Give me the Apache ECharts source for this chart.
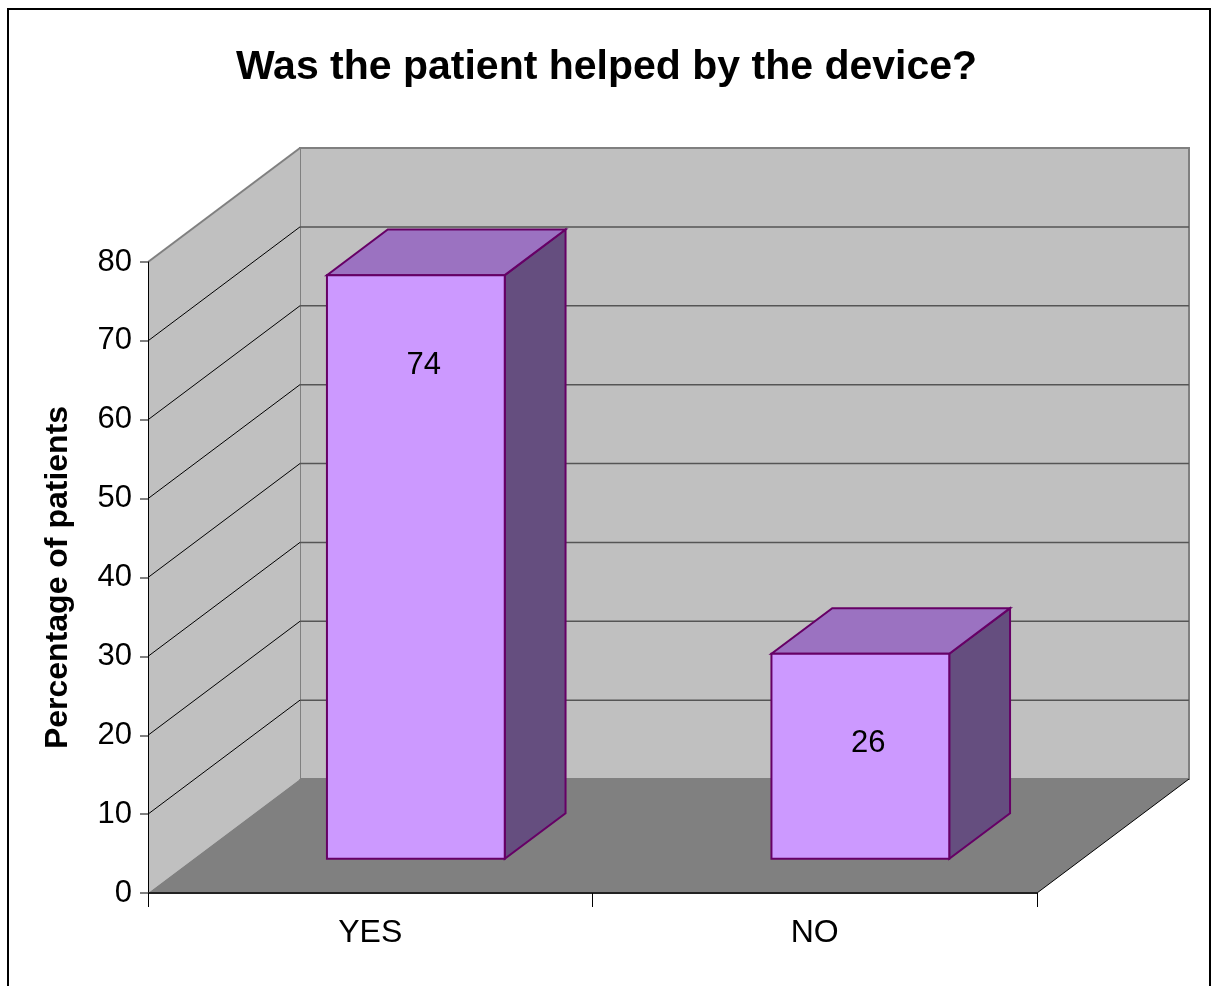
<!DOCTYPE html>
<html>
<head>
<meta charset="utf-8">
<script src="https://cdn.jsdelivr.net/npm/echarts@6/dist/echarts.min.js"></script>
<style>
  html, body { margin: 0; padding: 0; background: #fff; }
  #chart { width: 1213px; height: 986px; }
</style>
</head>
<body>
<div id="chart"></div>
<script>
// Survey answers and the share of patients for each
const categories = ['YES', 'NO'];
const percentages = [74, 26];
const yTicks = [0, 10, 20, 30, 40, 50, 60, 70, 80];

const Y_MIN = 0;
const Y_MAX = 80;
const Y_STEP = 10;

// Pseudo-3D depth: offset from the front plane to the back wall (px)
const DX = 152;
const DY = -114;
// Bars sit between these fractions of the depth
const F_FRONT = 0.3;
const F_BACK = 0.7;
const BAR_RATIO = 0.4;

const FONT = '"Liberation Sans", Arial, sans-serif';

const chart = echarts.init(document.getElementById('chart'), null, { renderer: 'canvas' });

// Walls, floor and gridlines of the 3D box
function renderBox(params, api) {
  const cs = params.coordSys;
  const x0 = cs.x;
  const x1 = cs.x + cs.width;
  const yBase = api.coord([0, Y_MIN])[1];
  const yTop = api.coord([0, Y_MAX])[1];
  const children = [];

  children.push({
    type: 'rect',
    shape: { x: x0 + DX, y: yTop + DY, width: x1 - x0, height: yBase - yTop },
    style: { fill: '#c0c0c0', stroke: '#808080', lineWidth: 2 }
  });
  children.push({
    type: 'polygon',
    shape: { points: [[x0, yBase], [x0, yTop], [x0 + DX, yTop + DY], [x0 + DX, yBase + DY]] },
    style: { fill: '#c0c0c0' }
  });
  yTicks.forEach(function (v) {
    if (v <= Y_MIN || v >= Y_MAX) return;
    const y = api.coord([0, v])[1];
    children.push({
      type: 'line',
      shape: { x1: x0 + DX, y1: y + DY, x2: x1 + DX, y2: y + DY },
      style: { stroke: '#555555', lineWidth: 1.5 }
    });
    children.push({
      type: 'line',
      shape: { x1: x0, y1: y, x2: x0 + DX, y2: y + DY },
      style: { stroke: '#000000', lineWidth: 1 }
    });
  });
  children.push({
    type: 'line',
    shape: { x1: x0, y1: yTop, x2: x0 + DX, y2: yTop + DY },
    style: { stroke: '#808080', lineWidth: 2 }
  });
  children.push({
    type: 'polygon',
    shape: { points: [[x0, yBase], [x1, yBase], [x1 + DX, yBase + DY], [x0 + DX, yBase + DY]] },
    style: { fill: '#808080' }
  });
  children.push({
    type: 'line',
    shape: { x1: x1, y1: yBase, x2: x1 + DX, y2: yBase + DY },
    style: { stroke: '#000000', lineWidth: 1 }
  });
  return { type: 'group', children: children };
}

// One 3D column: side, top and front faces plus the value label
function renderColumn(params, api) {
  const idx = api.value(0);
  const val = api.value(1);
  const base = api.coord([idx, Y_MIN]);
  const top = api.coord([idx, val]);
  const band = api.size([1, 0])[0];
  const w = band * BAR_RATIO;
  const xl = base[0] - w / 2;
  const xr = base[0] + w / 2;
  const fx = F_FRONT * DX, fy = F_FRONT * DY;
  const bx = F_BACK * DX, by = F_BACK * DY;
  const edge = { stroke: '#660066', lineWidth: 2, lineJoin: 'miter' };

  return {
    type: 'group',
    children: [
      {
        type: 'polygon',
        shape: { points: [[xr + fx, top[1] + fy], [xr + bx, top[1] + by], [xr + bx, base[1] + by], [xr + fx, base[1] + fy]] },
        style: Object.assign({ fill: '#654e7f' }, edge)
      },
      {
        type: 'polygon',
        shape: { points: [[xl + fx, top[1] + fy], [xr + fx, top[1] + fy], [xr + bx, top[1] + by], [xl + bx, top[1] + by]] },
        style: Object.assign({ fill: '#9b72c1' }, edge)
      },
      {
        type: 'polygon',
        shape: { points: [[xl + fx, top[1] + fy], [xr + fx, top[1] + fy], [xr + fx, base[1] + fy], [xl + fx, base[1] + fy]] },
        style: Object.assign({ fill: '#cc99ff' }, edge)
      },
      {
        type: 'text',
        x: base[0] + fx + 8,
        y: top[1] + fy + 90,
        style: {
          text: String(val),
          fill: '#000',
          font: '31px ' + FONT,
          align: 'center',
          verticalAlign: 'middle'
        }
      }
    ]
  };
}

chart.setOption({
  animation: false,
  backgroundColor: '#ffffff',
  title: {
    text: 'Was the patient helped by the device?',
    left: 'center',
    top: 42,
    textStyle: { fontFamily: FONT, fontSize: 41, fontWeight: 'bold', color: '#000' }
  },
  graphic: [{
    type: 'rect',
    shape: { x: 8, y: 9, width: 1202, height: 990 },
    style: { fill: null, stroke: '#000', lineWidth: 2 },
    z: 100,
    silent: true
  }],
  grid: { left: 148, right: 176, top: 262, bottom: 93 },
  xAxis: {
    type: 'category',
    data: categories,
    z: 10,
    axisLine: { lineStyle: { color: '#222', width: 2 } },
    axisTick: { show: true, interval: 0, length: 14, lineStyle: { color: '#000', width: 1 } },
    axisLabel: { fontFamily: FONT, fontSize: 32, color: '#000', margin: 24 },
    splitLine: { show: false }
  },
  yAxis: {
    type: 'value',
    min: Y_MIN,
    max: Y_MAX,
    interval: Y_STEP,
    z: 10,
    name: 'Percentage of patients',
    nameLocation: 'middle',
    nameRotate: 90,
    nameGap: 74,
    nameTextStyle: { fontFamily: FONT, fontSize: 32, fontWeight: 'bold', color: '#000' },
    axisLine: { show: true, lineStyle: { color: '#000', width: 1 } },
    axisTick: { show: true, length: 8, lineStyle: { color: '#808080', width: 2 } },
    axisLabel: { fontFamily: FONT, fontSize: 31, color: '#000', margin: 16 },
    splitLine: { show: false }
  },
  series: [
    {
      type: 'custom',
      silent: true,
      clip: false,
      z: 1,
      data: [[0, 0]],
      renderItem: renderBox
    },
    {
      type: 'custom',
      silent: true,
      clip: false,
      z: 3,
      data: percentages.map(function (v, i) { return [i, v]; }),
      renderItem: renderColumn
    }
  ]
});
</script>
</body>
</html>
